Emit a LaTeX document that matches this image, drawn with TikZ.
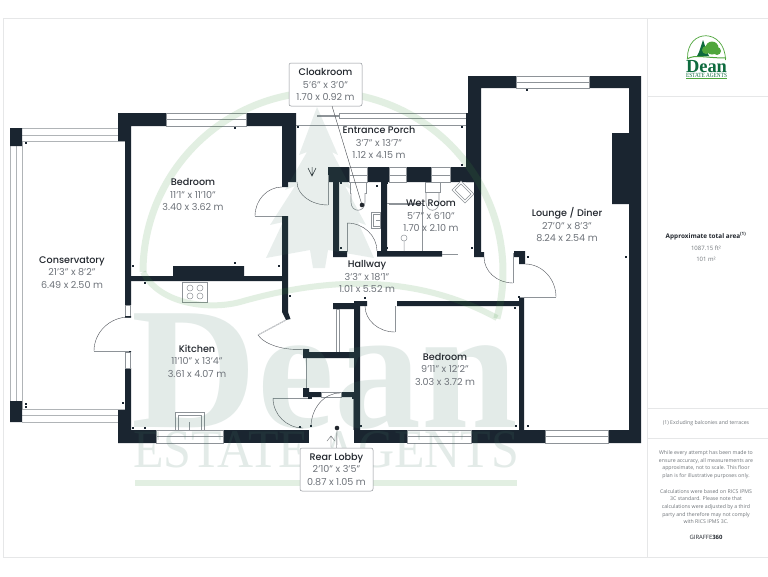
\documentclass[tikz,border=0pt]{standalone}
\usepackage{fontspec}
\usetikzlibrary{calc}
\setmainfont{Poppins}[BoldFont={Poppins Medium}]
\newfontfamily\smallfontfam{Open Sans}
\newfontfamily\wmfont{Liberation Serif}[Ligatures=TeX]
\definecolor{wallc}{HTML}{1A2530}
\definecolor{namec}{HTML}{22272E}
\definecolor{dimc}{HTML}{6E737A}
\definecolor{linec}{HTML}{8E9398}
\definecolor{framec}{HTML}{E6E7E8}
\definecolor{wmg}{HTML}{3E943E}
\definecolor{wmd}{HTML}{447A66}
\definecolor{logog}{HTML}{0E6B3E}
\definecolor{logol}{HTML}{4FA63C}
\definecolor{paneltxt}{HTML}{70757A}
\newcommand{\smallfontx}{\smallfontfam\fontsize{5.2}{7.6}\selectfont}
\tikzset{
  wall/.style={fill=wallc,draw=none},
  glaze/.style={fill=white,draw=linec,line width=.5pt},
  leaf/.style={draw=linec,line width=.9pt,fill=white},
  swing/.style={draw=namec!80,line width=.4pt},
  fixture/.style={draw=linec,line width=.6pt,fill=white},
  room/.style={align=center,font=\fontsize{9.6}{12.5}\selectfont,text=dimc,inner sep=0pt},
  callout/.style={room,draw=linec,line width=.5pt,fill=white,rounded corners=2pt,minimum width=73pt,minimum height=43pt},
  leader/.style={draw=namec!85,line width=.4pt},
  tick/.style={fill=wallc,draw=none},
  panel/.style={align=center,font=\smallfontx,text=paneltxt,inner sep=0pt},
}
\newcommand{\nm}[1]{\textcolor{namec}{\textbf{#1}}}
\newcommand{\doorarc}[3]{\draw[swing] #1 .. controls ($#1!.55!#2$) and ($#3!.55!#2$) .. #3;}
\begin{document}
\begin{tikzpicture}[x=1pt,y=-1pt]
\useasboundingbox (0,0) rectangle (768,576);
\fill[white] (0,0) rectangle (768,576);
% frame
\draw[framec,line width=.8pt] (3,18) -- (768,18) (3,18) -- (3,557) -- (768,557);
\draw[framec,line width=.8pt] (647,18) -- (647,557) (647,96) -- (768,96) (647,408) -- (768,408) (647,438) -- (768,438);
% conservatory
\draw[linec!70,line width=.6pt] (22,128) -- (118,128) (22,141) -- (125,141) (22,135) -- (118,135);
\draw[linec!70,line width=.6pt] (22,409) -- (125,409) (22,422) -- (118,422) (22,415) -- (118,415);
\draw[linec!70,line width=.6pt] (10,146) -- (10,401) (16,146) -- (16,401) (22,141) -- (22,409);
\fill[wall] (10,128) rectangle (22,146) (10,401) rectangle (22,422);
% outer walls
\fill[wall] (118,113) -- (166,113) -- (166,126) -- (131,126) -- (131,305) -- (125,305) -- (125,141) -- (118,141) -- cycle;
\fill[wall] (246,113) -- (296,113) -- (296,167) -- (296,182) -- (288,182) -- (288,187) -- (282,187) -- (282,126) -- (246,126) -- cycle;
\fill[wall] (131,276) rectangle (282,281) (173,266) rectangle (244,281);
\fill[wall] (282,216) -- (288,216) -- (288,312) -- (290.5,319) -- (286,320) -- (282,312) -- cycle;
% kitchen west / south
\fill[wall] (125,368) -- (131,368) -- (131,430) -- (156,430) -- (156,443) -- (118,443) -- (118,410) -- (125,410) -- cycle;
\fill[wall] (223,430) rectangle (309,443);
\draw[glaze] (125.5,305) rectangle (130.5,317) (125.5,352) rectangle (130.5,368);
\fill[wall] (125,316) rectangle (131,317.5) (125,351) rectangle (131,352);
\draw[glaze] (156,430) rectangle (223,443); \draw[linec,line width=.5pt] (156,436) -- (223,436);
\draw[glaze] (166,113) rectangle (246,126); \draw[linec,line width=.5pt] (166,119) -- (246,119);
% porch
\draw[linec,line width=.6pt] (339,113) rectangle (466,118);
\draw[linec,line width=1.2pt] (317,116) -- (339,116);
\draw[linec,line width=.6pt] (296,125) -- (466,125);
% porch south wall
\fill[wall] (328,167) rectangle (349,182) (367,167) rectangle (389,182) (406,167) rectangle (431,182) (450,167) rectangle (474,182);
\draw[glaze] (349,167) rectangle (367,182) (389,167) rectangle (406,182) (431,167) rectangle (450,182);
\draw[linec,line width=.4pt] (349,175) -- (367,175) (389,175) -- (406,175) (431,175) -- (450,175);
% lounge
\fill[wall] (466,113) -- (468,113) -- (468,76) -- (516,76) -- (516,88) -- (481,88) -- (481,252) -- (484,252) -- (484,257) -- (474,257) -- (474,182) -- (466,182) -- cycle;
\fill[wall] (589,76) -- (641,76) -- (641,443) -- (608,443) -- (608,430) -- (629,430) -- (629,204) -- (612,204) -- (612,133) -- (629,133) -- (629,88) -- (589,88) -- cycle;
\draw[glaze] (516,76) rectangle (589,88); \draw[linec,line width=.5pt] (516,82) -- (589,82);
\draw[glaze] (545,430) rectangle (608,443); \draw[linec,line width=.5pt] (545,436) -- (608,436);
\fill[wall] (519,298) rectangle (524,430) (471,430) rectangle (545,443);
\fill[wall] (514,251) -- (525,251) -- (525,264) -- (519,264) -- (519,257) -- (514,257) -- cycle;
% hallway / wet room walls
\fill[wall] (333,175) rectangle (339,257) (333,251) rectangle (347,257);
\fill[wall] (381,182) rectangle (387,251) (377,251) rectangle (442,256.5);
\draw[linec,line width=.6pt] (442,254) -- (458,254);
% bedroom 2 walls
\fill[wall] (397,301) rectangle (521,306) (354,301) rectangle (367,306);
\fill[wall] (354,301) rectangle (360,430) (333,303) rectangle (354,309);
\draw[fixture] (336,309) rectangle (339,352);
\fill[wall] (303,349) rectangle (309,358) (303,352) rectangle (354,358);
\draw[linec,line width=.8pt] (306,358) -- (306,388);
\fill[wall] (303,388) rectangle (309,397) (303,392) rectangle (321,397) (341,392) rectangle (354,397);
\draw[glaze] (321,392) rectangle (341,397);
\draw[linec,line width=.9pt] (353,397) -- (353,430);
\fill[wall] (354,430) rectangle (407,443);
\draw[glaze] (407,430) rectangle (471,443); \draw[linec,line width=.5pt] (407,436) -- (471,436);
% doors
\draw[leaf,fill=none] (255,216) -- (282,216);
\doorarc{(255,216)}{(255,187)}{(282,187)}
\draw[leaf,fill=none] (94,351) -- (129,351);
\doorarc{(94,351)}{(94,317)}{(129,317)}
\draw[leaf,fill=none] (258,335) -- (286,320); \draw[white,line width=.3pt] (258,335) -- (286,320);
\doorarc{(258,335)}{(270,353)}{(305,349)}
\draw[leaf,fill=none] (273,398) -- (308,398);
\doorarc{(273,398)}{(273,428)}{(303,428)}
\doorarc{(340,393)}{(311,393)}{(311,427)}
\draw[leaf,fill=none] (395,306) -- (395,332);
\doorarc{(395,332)}{(365,332)}{(365,306)}
\draw[leaf,fill=none] (513,253) -- (513,283);
\doorarc{(484,257)}{(484,283)}{(513,283)}
\draw[leaf,fill=none] (520,297) -- (556,297);
\doorarc{(556,297)}{(556,264)}{(525,264)}
\draw[leaf,fill=none] (328,175) -- (328,205);
\doorarc{(297,182)}{(297,205)}{(328,205)}
\draw[leaf,fill=none] (347,223) -- (347,252);
\doorarc{(347,223)}{(377,223)}{(377,251)}
% fixtures
\draw[fixture] (182,282) rectangle (207,302);
\foreach \a/\b in {190/288,200/288,190/296,200/296}{\draw[linec,line width=.5pt] (\a,\b) circle[radius=3];}
\draw[fixture] (175,412) rectangle (204,430); \draw[linec,line width=.5pt] (178,415) rectangle (201,430) (189.5,422) -- (189.5,430);
\draw[fixture] (350,182) rectangle (366,193);
\draw[fixture] (351,193) -- (351,202) .. controls (351,213) and (365,213) .. (365,202) -- (365,193);
\draw[fixture] (425,182) rectangle (440,192);
\draw[fixture,fill=none] (426,192) -- (426,202) .. controls (426,213) and (439,213) .. (439,202) -- (439,192);
\draw[fixture] (371,212) rectangle (380,228); \draw[linec,line width=.4pt] (373,214) rectangle (380,226) (376,220) -- (380,220);
\draw[linec,line width=.5pt] (387,203) -- (422,203) -- (422,251);
\draw[linec,line width=.4pt] (389,204.5) -- (421,204.5);
\draw[linec,line width=.5pt] (404,238) circle[radius=3] (404,241) -- (404,251);
\draw[fixture] (452,190) -- (461,181) -- (474,194) -- (465,203) -- cycle;
\draw[linec,line width=.4pt] (455,190) -- (461,184) -- (471,194) -- (465,200) -- cycle;
\draw[namec,line width=.5pt] (308,168) -- (312,176) -- (316,168) (312,176) -- (312,167);
\draw[namec!70,line width=.4pt] (327,441) -- (331,436) -- (335,441) (331,436) -- (331,447);
% dimension ticks
\foreach \a/\b in {26/143,26/404,26/407,123/403,133/266,235/128,235/263,279/266,145/283,133/428,145/428,298/127,462/127,462/165,341/183,377/186,387/183,341/248,387/248,472/248,528/257,626/257,527/90,519/297,528/426,515/308,516/303,365/298,361/426,516/426,311/426,290/296,353/398,309/398,311/398,300/427}{\fill[tick] ({\a-.7},{\b-.7}) rectangle ({\a+.7},{\b+.7});}
% watermark
\draw[wmg,opacity=.15,line width=7pt] (143,272) arc[start angle=180,end angle=375,radius=180];
\draw[wmg,opacity=.15,line width=6pt] (143,272) .. controls (160,305) and (210,310) .. (240,302) .. controls (300,285) and (400,265) .. (497,318);
\fill[wmd,opacity=.12] (317,107) -- (299,155) -- (307,152) -- (285,190) -- (295,186) -- (270,225) -- (283,222) -- (266,258) -- (310,250) -- (313,268) -- (325,268) -- (328,250) -- (374,258) -- (358,222) -- (366,225) -- (345,186) -- (352,190) -- (332,152) -- (338,155) -- cycle;
\node[inner sep=0pt,text=wmd,text opacity=.15] (wmdean) at (325,371) {\resizebox{386pt}{!}{\wmfont\bfseries Dean}};
\node[inner sep=0pt,text=wmd,text opacity=.15] (wmest) at (326,450) {\resizebox{386pt}{36pt}{\wmfont ESTATE AGENTS}};
\fill[wmg,opacity=.15] (135,480) rectangle (517,486);
% labels
\node[room] (conserv) at (72,272.5) {\nm{Conservatory}\\21'3" x 8'2"\\6.49 x 2.50 m};
\node[room] (bed1) at (193,194.5) {\nm{Bedroom}\\11'1" x 11'10"\\3.40 x 3.62 m};
\node[room] (kit) at (197,361) {\nm{Kitchen}\\11'10" x 13'4"\\3.61 x 4.07 m};
\node[room] (porch) at (379,142.5) {\nm{Entrance Porch}\\3'7" x 13'7"\\1.12 x 4.15 m};
\node[room] (wet) at (431,216) {\nm{Wet Room}\\5'7" x 6'10"\\1.70 x 2.10 m};
\node[room] (hall) at (367,276.5) {\nm{Hallway}\\3'3" x 18'1"\\1.01 x 5.52 m};
\node[room] (lounge) at (567,225) {\nm{Lounge / Diner}\\27'0" x 8'3"\\8.24 x 2.54 m};
\node[room] (bed2) at (445,369) {\nm{Bedroom}\\9'11" x 12'2"\\3.03 x 3.72 m};
\coordinate (cloakdot) at (362,205);
\coordinate (reardot) at (337,428);
\node[callout] (cloak) at (325.5,84.5) {\nm{Cloakroom}\\5'6" x 3'0"\\1.70 x 0.92 m};
\node[callout] (rear) at (336.5,469.5) {\nm{Rear Lobby}\\2'10" x 3'5"\\0.87 x 1.05 m};
\draw[leader] (cloak) -- (cloakdot);
\draw[leader] (rear) -- (reardot);
\fill[namec] (cloakdot) circle[radius=2.3];
\fill[namec] (reardot) circle[radius=2.3];
% logo
\draw[logol,line width=.7pt] (687.5,58) .. controls (687,28) and (725,28) .. (725.5,60);
\draw[logol,line width=1pt] (687,59) .. controls (695,54) and (705,58) .. (726,58);
\fill[logog] (703,40) -- (699,52) -- (697,56) -- (709,56) -- (707,52) -- cycle;
\fill[logol] (712,48) circle[radius=6.5] (706,50) circle[radius=4] (717,51) circle[radius=4];
\node[inner sep=0pt,text=logog] (logodean) at (706.5,66.5) {\resizebox{41pt}{!}{\wmfont\bfseries Dean}};
\node[inner sep=0pt,text=logog] (logoest) at (706.5,75) {\resizebox{41pt}{4.2pt}{\wmfont ESTATE AGENTS}};
\fill[logol] (686,78) rectangle (727,79);
% panel text
\node[panel,text=namec,font=\smallfontfam\fontsize{6.4}{8}\selectfont] (area) at (706,236) {\bfseries Approximate total area\textsuperscript{(1)}};
\node[panel,font=\smallfontfam\fontsize{6}{11}\selectfont] (areaval) at (706,253.5) {1087.15 ft²\\101 m²};
\node[panel] (excl) at (706,423) {(1) Excluding balconies and terraces};
\node[panel] (note1) at (706,464.5) {While every attempt has been made to\\ensure accuracy, all measurements are\\approximate, not to scale. This floor\\plan is for illustrative purposes only.};
\node[panel] (note2) at (706,506.5) {Calculations were based on RICS IPMS\\3C standard. Please note that\\calculations were adjusted by a third\\party and therefore may not comply\\with RICS IPMS 3C.};
\node[panel,text=namec,font=\smallfontfam\fontsize{5.9}{8}\selectfont] (gir) at (706,537) {GIRAFFE\textbf{360}};
\end{tikzpicture}
\end{document}
